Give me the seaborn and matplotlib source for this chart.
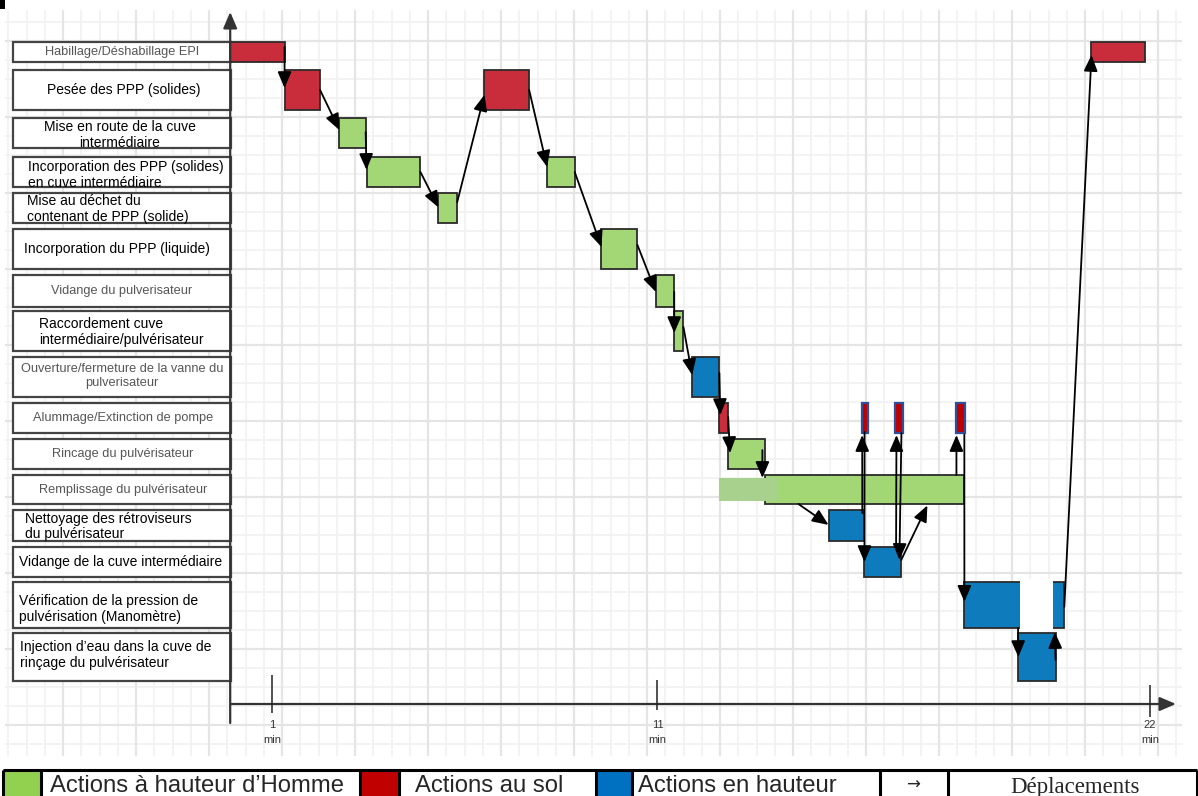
import numpy as np
import pandas as pd
import matplotlib
matplotlib.use("Agg")
import matplotlib.pyplot as plt
from matplotlib.patches import Rectangle
import seaborn as sns

# ── Style ────────────────────────────────────────────────────
sns.set_theme(style="white")
plt.rcParams["font.family"] = ["Liberation Sans", "DejaVu Sans"]

# ── Data ─────────────────────────────────────────────────────
tasks = [
    "Habillage/Déshabillage EPI",
    "Pesée des PPP (solides)",
    "Mise en route de la cuve\nintermédiaire",
    "Incorporation des PPP (solides)\nen cuve intermédiaire",
    "Mise au déchet du\ncontenant de PPP (solide)",
    "Incorporation du PPP (liquide)",
    "Vidange du pulverisateur",
    "Raccordement cuve\nintermédiaire/pulvérisateur",
    "Ouverture/fermeture de la vanne du\npulverisateur",
    "Alummage/Extinction de pompe",
    "Rincage du pulvérisateur",
    "Remplissage du pulvérisateur",
    "Nettoyage des rétroviseurs\ndu pulvérisateur",
    "Vidange de la cuve intermédiaire",
    "Vérification de la pression de\npulvérisation (Manomètre)",
    "Injection d’eau dans la cuve de\nrinçage du pulvérisateur",
]

# one entry per block (minutes)
bar_row = [0, 1, 2, 3, 4, 1, 3, 5, 6, 7, 8, 9, 10, 11, 12, 13, 9, 9, 9, 14, 15, 0]
bar_start = [0.00, 1.30, 2.61, 3.26, 4.98, 6.08, 7.58, 8.88, 10.18, 10.62, 11.05,
             11.70, 11.91, 12.80, 14.31, 15.17, 15.10, 15.91, 17.37, 17.56, 18.85, 20.60]
bar_end = [1.30, 2.15, 3.24, 4.55, 5.43, 7.15, 8.24, 9.74, 10.62, 10.84, 11.70,
           11.91, 12.80, 17.56, 15.17, 16.05, 15.26, 16.08, 17.58, 19.95, 19.74, 21.89]
bar_kind = ["sol", "sol", "homme", "homme", "homme", "sol", "homme", "homme", "homme",
            "homme", "hauteur", "sol", "homme", "homme", "hauteur", "hauteur",
            "pompe", "pompe", "pompe", "hauteur", "hauteur", "sol"]

# lighter part of the filling block, and the blank part of the pressure check
extra_row, extra_start, extra_end = 11, 11.70, 13.11
gap_row, gap_start, gap_end = 14, 18.90, 19.69

# moves: block -> block
arrow_src = [0, 1, 2, 3, 4, 5, 6, 7, 8, 9, 10, 11, 12, 13, 14, 16, 15, 17, 15, 13, 18, 19, 20, 19]
arrow_dst = [1, 2, 3, 4, 5, 6, 7, 8, 9, 10, 11, 12, 13, 14, 16, 15, 17, 15, 13, 18, 19, 20, 19, 21]

tick_pos = [1, 10.22, 22]
tick_labels = ["1\nmin", "11\nmin", "22\nmin"]

legend_labels = ["Actions à hauteur d’Homme", "Actions au sol", "Actions en hauteur", "→", "Déplacements"]

# ── Layout ───────────────────────────────────────────────────
W, H = 1198, 796
X0, PX_MIN = 230.2, 41.81  # pixel of 0 min, pixels per minute

row_top = [42, 70, 118, 157, 193, 229, 275, 311, 357, 403, 439, 475, 510, 547, 582, 633]
row_bot = [62, 110, 148, 187, 223, 269, 307, 351, 397, 433, 469, 504, 541, 577, 628, 681]

label_ha = ["center", "center", "center", "left", "left", "center", "center", "left",
            "center", "center", "center", "center", "left", "left", "left", "left"]
label_x = [122, 124, 120, 28, 27, 117, 122, 39, 122, 123, 123, 123, 25, 19, 19, 20]
label_dy = [0, 0, 2, 3, 1, 0, 0, 1, -1, 0, 0, 0, 1, 0, 4, -2]
label_grey = [0, 6, 8, 9, 10, 11]

arrow_src_anchor = [(1, 0.25), (1, 0.5), (1, 0.47), (1, 0.5), (1, 0.3), (1, 0.5), (1, 0.5),
                    (1, 0.4), (1, 0.53), (1, 0.4), (1, 0.4), (1, 0.47), (0.92, 0.37),
                    (0.166, 1.0), (0.94, 0.1), (0.45, 0.97), (0.86, -0.13), (0.85, 1.0),
                    (1, 0.43), (0.96, 0.0), (0.9, 1.05), (0.537, 1.0), (1, 0.56), (1, 0.54)]
arrow_dst_anchor = [(0, 0.45), (0, 0.4), (0, 0.43), (0, 0.48), (0, 0.62), (0, 0.33), (0, 0.45),
                    (0, 0.53), (0, 0.55), (0, 0.45), (0.1, 0.4), (0.05, 0.47), (-0.015, 0.1),
                    (0, 0.48), (0.1, 1.07), (0, 0.5), (0.15, 1.07), (0.95, 0.43),
                    (0.814, 1.05), (0.0, 1.07), (0, 0.43), (0, 0.5), (0.905, 1.09), (0, 0.65)]

colors = {"homme": "#a3d776", "sol": "#c92d3b", "hauteur": "#0e7bbd", "pompe": "#c00000"}
edge = "#2b2b2b"

df = pd.DataFrame({"row": bar_row, "start": bar_start, "end": bar_end, "kind": bar_kind})
df["top"] = [row_top[r] for r in df["row"]]
df["bot"] = [row_bot[r] for r in df["row"]]

fig = plt.figure(figsize=(W / 100, H / 100), dpi=100)

# ── Background: grid, label column, legend table (pixel units) ──
bg = fig.add_axes([0, 0, 1, 1])
bg.set_xlim(0, W)
bg.set_ylim(H, 0)
bg.axis("off")

vx = 866 + 18.25 * np.arange(-47, 18)
vx = vx[(vx > 4) & (vx < 1183)]
hy = 117 + 19 * np.arange(-6, 34)
hy = hy[(hy > 9) & (hy < 757)]
vmaj = np.isclose(((vx - 866) / 18.25) % 4, 0)
hmaj = np.isclose(((hy - 117) / 19) % 4, 0)
bg.vlines(vx[~vmaj], 10, 756, color="#f2f2f2", lw=1.3, zorder=0)
bg.hlines(hy[~hmaj], 5, 1182, color="#f2f2f2", lw=1.3, zorder=0)
bg.vlines(vx[vmaj], 10, 756, color="#e5e5e5", lw=1.6, zorder=0)
bg.hlines(hy[hmaj], 5, 1182, color="#e5e5e5", lw=1.6, zorder=0)

bg.add_patch(Rectangle((0, 0), 5, 9, facecolor="black", edgecolor="none"))

for i, name in enumerate(tasks):
    bg.add_patch(Rectangle((13, row_top[i]), 218, row_bot[i] - row_top[i],
                           facecolor="white", edgecolor="#444444", lw=1.6, zorder=2))
    grey = i in label_grey
    bg.text(label_x[i], (row_top[i] + row_bot[i]) / 2 + label_dy[i], name,
            ha=label_ha[i], va="center", fontsize=9.2 if grey else 10,
            color="#555555" if grey else "black", linespacing=1.15, zorder=3)

# legend table
cells = [3, 41, 360, 399, 596, 632, 880, 948, 1197]
swatch = ["#92d050", "#c00000", "#0070c0"]
for k, c in enumerate(swatch):
    bg.add_patch(Rectangle((cells[2 * k], 770), cells[2 * k + 1] - cells[2 * k], 28,
                           facecolor=c, edgecolor="none", zorder=2))
bg.hlines(770, cells[0], cells[-1], color="black", lw=2.2, zorder=3)
bg.vlines(cells, 770, 797, color="black", lw=2.2, zorder=3)
bg.text(50, 792, legend_labels[0], fontsize=17.2, va="baseline", zorder=3)
bg.text(415, 792, legend_labels[1], fontsize=17.2, va="baseline", zorder=3)
bg.text(638, 792, legend_labels[2], fontsize=17.2, va="baseline", zorder=3)
bg.text(913, 790, legend_labels[3], fontsize=12, ha="center", va="baseline",
        family=["DejaVu Sans"], zorder=3)
bg.text(1075, 793, legend_labels[4], fontsize=16.5, ha="center", va="baseline",
        family=["Liberation Serif", "DejaVu Serif"], zorder=3)

# ── Chart (x in minutes) ─────────────────────────────────────
ax = fig.add_axes([0, 0, 1, 1])
ax.patch.set_alpha(0)
ax.set_xlim(-X0 / PX_MIN, (W - X0) / PX_MIN)
ax.set_ylim(H, 0)
ax.axis("off")

for kind, g in df.groupby("kind"):
    ax.barh((g["top"] + g["bot"]) / 2, g["end"] - g["start"], left=g["start"],
            height=g["bot"] - g["top"], color=colors[kind],
            edgecolor="#2f4f9a" if kind == "pompe" else edge,
            lw=1.6 if kind == "pompe" else 1.3, zorder=2)

pad = 3
ax.barh((row_top[extra_row] + row_bot[extra_row]) / 2, extra_end - extra_start,
        left=extra_start, height=row_bot[extra_row] - row_top[extra_row] - 2 * pad,
        color="#a9d18e", edgecolor="none", zorder=3)
ax.barh((row_top[gap_row] + row_bot[gap_row]) / 2, gap_end - gap_start,
        left=gap_start, height=row_bot[gap_row] - row_top[gap_row] + 6,
        color="white", edgecolor="none", zorder=3)


def anchor(i, fx, fy):
    r = bar_row[i]
    x = bar_start[i] + fx * (bar_end[i] - bar_start[i])
    y = row_top[r] + fy * (row_bot[r] - row_top[r])
    return x, y


for s, d, sa, da in zip(arrow_src, arrow_dst, arrow_src_anchor, arrow_dst_anchor):
    ax.annotate("", xy=anchor(d, *da), xytext=anchor(s, *sa),
                arrowprops=dict(arrowstyle="-|>,head_length=0.7,head_width=0.3",
                                color="black", lw=1.3, shrinkA=0, shrinkB=0,
                                mutation_scale=14), zorder=5)

# axes with arrow heads
axis_style = dict(arrowstyle="-|>,head_length=0.7,head_width=0.3", color="#333333",
                  lw=1.6, shrinkA=0, shrinkB=0, mutation_scale=14)
ax.annotate("", xy=(0, 12), xytext=(0, 723), arrowprops=axis_style, zorder=4)
ax.annotate("", xy=((1176 - X0) / PX_MIN, 704), xytext=(0, 704),
            arrowprops=axis_style, zorder=4)

ax.vlines(tick_pos, [675, 680, 685], [713, 710, 717], color="#222222", lw=1.1, zorder=4)
for tp, tl in zip(tick_pos, tick_labels):
    ax.text(tp, 720, tl, ha="center", va="top", fontsize=8, color="#333333",
            linespacing=1.65, zorder=4)

fig.savefig("out.png", dpi=100)
